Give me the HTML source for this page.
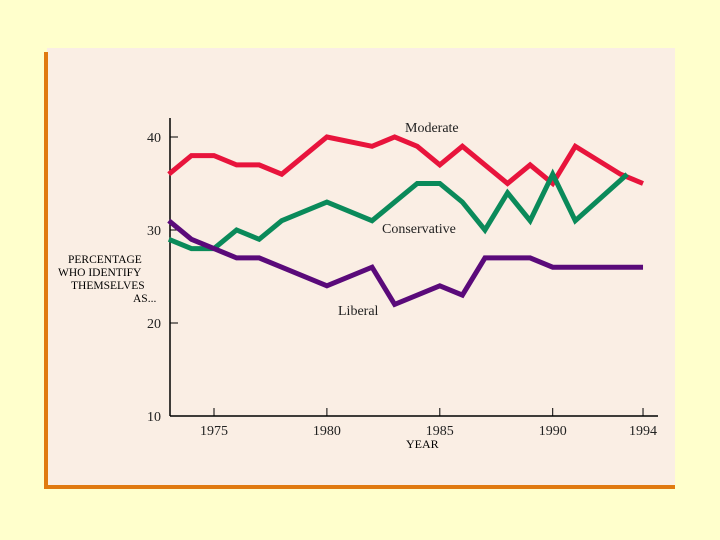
<!DOCTYPE html>
<html><head><meta charset="utf-8"><style>
body{margin:0;background:#FFFFCC;width:720px;height:540px;overflow:hidden;font-family:"Liberation Serif",serif;}
</style></head><body>
<svg width="720" height="540" style="display:block">
<rect x="0" y="0" width="720" height="540" fill="#FFFFCC"/>
<rect x="47" y="48" width="628" height="440" fill="#FAEEE4"/>
<rect x="44" y="52" width="4" height="437" fill="#E07A10"/>
<rect x="44" y="485" width="631" height="4" fill="#E07A10"/>
<g id="axes"></g>
<g id="series"></g>
<text x="68" y="263" font-size="11.5">PERCENTAGE</text>
<text x="58" y="276" font-size="11.5">WHO IDENTIFY</text>
<text x="71" y="289" font-size="11.5">THEMSELVES</text>
<text x="133" y="302" font-size="11.5">AS...</text>
<text x="406" y="448" font-size="12">YEAR</text>
<text x="405" y="132" font-size="14" fill="#222">Moderate</text>
<text x="382" y="233" font-size="14" fill="#222">Conservative</text>
<text x="338" y="315" font-size="14" fill="#222">Liberal</text>
</svg>
<script>
const yTicks=[10,20,30,40];
const xTicks=[1975,1980,1985,1990,1994];
const modYears=[1973,1974,1975,1976,1977,1978,1980,1982,1983,1984,1985,1986,1987,1988,1989,1990,1991,1993,1994];
const modVals=[36,38,38,37,37,36,40,39,40,39,37,39,37,35,37,35,39,36,35];
const conYears=[1973,1974,1975,1976,1977,1978,1980,1982,1983,1984,1985,1986,1987,1988,1989,1990,1991,1993.3];
const conVals=[29,28,28,30,29,31,33,31,33,35,35,33,30,34,31,36,31,36];
const libYears=[1973,1974,1975,1976,1977,1978,1980,1982,1983,1985,1986,1987,1989,1990,1994];
const libVals=[31,29,28,27,27,26,24,26,22,24,23,27,27,26,26];
const NS="http://www.w3.org/2000/svg";
const X=y=>214+(y-1975)*22.58;
const Y=v=>416-(v-10)*9.3;
const axes=document.getElementById('axes');
function mk(t,a,p){const e=document.createElementNS(NS,t);for(const k in a)e.setAttribute(k,a[k]);p.appendChild(e);return e;}
let l=mk('line',{x1:170,y1:118,x2:170,y2:416,stroke:'#000','stroke-width':1.5},axes);


l=mk('line',{x1:170,y1:416,x2:658,y2:416,stroke:'#000','stroke-width':1.5},axes);


yTicks.forEach(v=>{
 if(v>10){const t=mk('line',{x1:170,y1:Y(v),x2:178,y2:Y(v),stroke:'#000'},axes);
 
 }
 const tx=mk('text',{x:161,y:Y(v)+5,'font-size':14,'text-anchor':'end',fill:'#222'},axes);tx.textContent=v;
 
 
});
xTicks.forEach(v=>{
 const t=mk('line',{x1:X(v),y1:408,x2:X(v),y2:416,stroke:'#000'},axes);
 
 
 const tx=mk('text',{x:X(v),y:435,'font-size':14,'text-anchor':'middle',fill:'#222'},axes);tx.textContent=v;
 
 
});
const ser=document.getElementById('series');
function line(xs,vs,c,name){
 const p=mk('polyline',{points:xs.map((x,i)=>X(x)+','+Y(vs[i])).join(' '),fill:'none',stroke:c,'stroke-width':5,'stroke-linejoin':'miter'},ser);
 
 
}
line(modYears,modVals,'#E8143C','line-moderate');
line(conYears,conVals,'#0A8A5A','line-conservative');
line(libYears,libVals,'#5A0A7A','line-liberal');
</script>
</body></html>
